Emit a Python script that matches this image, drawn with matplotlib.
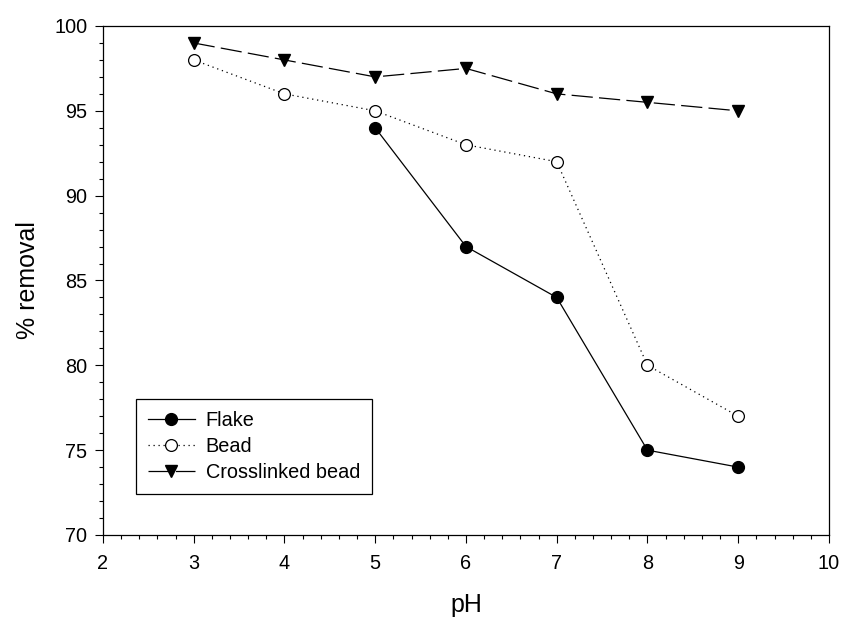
import matplotlib
matplotlib.use("Agg")
import matplotlib.pyplot as plt
from matplotlib.ticker import MultipleLocator

plt.rcParams['font.family'] = ['Liberation Sans', 'DejaVu Sans']

ph_flake = [5, 6, 7, 8, 9]
flake = [94, 87, 84, 75, 74]
ph_bead = [3, 4, 5, 6, 7, 8, 9]
bead = [98, 96, 95, 93, 92, 80, 77]
ph_cross = [3, 4, 5, 6, 7, 8, 9]
crosslinked = [99, 98, 97, 97.5, 96, 95.5, 95]

fig = plt.figure(figsize=(8.42, 6.22), dpi=100)
ax = fig.add_axes([0.1223, 0.1399, 0.8622, 0.8183])

lw = 0.9
ms = 8.5
ax.plot(ph_flake, flake, color='black', lw=lw, marker='o', ms=ms,
        mfc='black', mec='black', label='Flake')
ax.plot(ph_bead, bead, color='black', lw=lw, ls=(0, (1, 3)), marker='o', ms=ms,
        mfc='white', mec='black', mew=0.9, label='Bead')
ax.plot(ph_cross, crosslinked, color='black', lw=lw, ls=(0, (17, 5)), marker='v',
        ms=ms + 0.5, mfc='black', mec='black', label='Crosslinked bead')

ax.set_xlim(2, 10)
ax.set_ylim(70, 100)
ax.xaxis.set_major_locator(MultipleLocator(1))
ax.xaxis.set_minor_locator(MultipleLocator(0.2))
ax.yaxis.set_major_locator(MultipleLocator(5))
ax.yaxis.set_minor_locator(MultipleLocator(1))
ax.tick_params(which='both', direction='out', top=False, right=False,
               width=0.8, labelsize=14.3, colors='black')
ax.tick_params(which='major', length=5.8)
ax.tick_params(which='minor', length=3)
ax.tick_params(axis='y', which='major', pad=5.5)
ax.tick_params(axis='x', which='major', pad=8)
for s in ax.spines.values():
    s.set_linewidth(0.9)

ax.set_xlabel('pH', fontsize=18, labelpad=14)
ax.set_ylabel('% removal', fontsize=18, labelpad=10)

leg = ax.legend(loc='lower left', bbox_to_anchor=(0.0455, 0.0806), fontsize=14.3,
                frameon=True, fancybox=False, edgecolor='black', framealpha=1,
                handlelength=2.35, borderpad=0.6, labelspacing=0.35,
                handletextpad=0.55, borderaxespad=0)
leg.get_frame().set_linewidth(0.9)

fig.savefig('out.png', dpi=100)
